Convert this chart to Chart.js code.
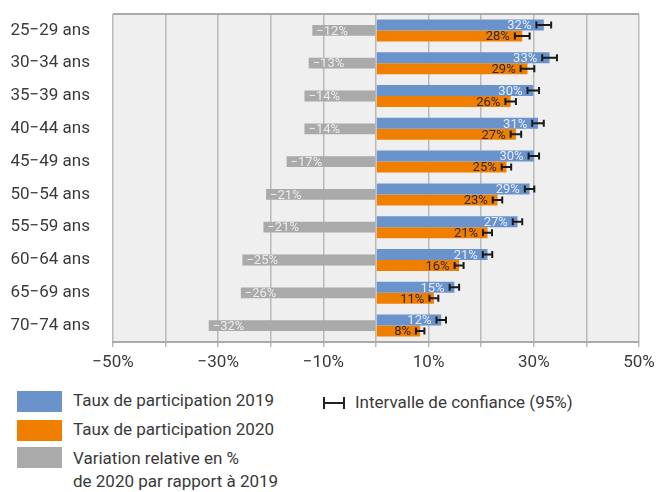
<!doctype html>
<html>

<head>
    <meta charset="utf-8">
    <title>Taux de participation par âge</title>
    <script src="https://cdn.jsdelivr.net/npm/chart.js"></script>
    <style>
        body {
            margin: 0;
            background-color: white;
            font-family: Roboto;
            color: #3a3a3a
        }

        #wrap {
            position: relative;
            width: 669px;
            height: 492px
        }

        .swatch {
            position: absolute;
            left: 17px;
            width: 45px;
            height: 21px
        }

        .ltext {
            position: absolute;
            font-size: 17px;
            line-height: 23px;
            white-space: nowrap
        }

        .ci-icon {
            position: absolute;
            left: 323px;
            top: 397px;
            width: 18px;
            height: 12px;
            border-left: 2px solid #222;
            border-right: 2px solid #222
        }

        .ci-icon div {
            margin-top: 5px;
            height: 2px;
            background: #222
        }
    </style>
</head>

<body>
    <div id="wrap">
        <canvas id="chart" width="669" height="382"></canvas>
        <div class="swatch" style="top: 391px; background: #6a93cc"></div>
        <div class="ltext" style="left: 73px; top: 389px">Taux de participation 2019</div>
        <div class="swatch" style="top: 420px; background: #f07f00"></div>
        <div class="ltext" style="left: 73px; top: 418px">Taux de participation 2020</div>
        <div class="swatch" style="top: 447px; background: #aaaaaa"></div>
        <div class="ltext" style="left: 73px; top: 447px">Variation relative en %<br>de 2020 par rapport à 2019</div>
        <div class="ci-icon"><div></div></div>
        <div class="ltext" style="left: 355px; top: 391px">Intervalle de confiance (95%)</div>
    </div>
    <script>
        const ageGroups = ['25−29 ans', '30−34 ans', '35−39 ans', '40−44 ans', '45−49 ans',
            '50−54 ans', '55−59 ans', '60−64 ans', '65−69 ans', '70−74 ans']
        const rate2019 = [31.9, 33.0, 29.9, 30.8, 30.0, 29.2, 26.9, 21.2, 14.9, 12.4]
        const rate2020 = [27.8, 28.8, 25.6, 26.6, 24.8, 23.1, 21.2, 15.8, 11.0, 8.4]
        const relChange = [-12.1, -12.8, -13.6, -13.6, -17.0, -20.9, -21.4, -25.4, -25.7, -31.8]
        // half width of the 95% confidence interval
        const ci2019 = [1.4, 1.4, 1.1, 1.1, 1.0, 0.9, 0.9, 0.9, 0.9, 0.9]
        const ci2020 = [1.4, 1.3, 1.0, 1.0, 0.9, 0.9, 0.85, 0.85, 0.85, 0.8]
        const xTickLabels = [-50, -30, -10, 10, 30, 50]

        const pct = v => (v < 0 ? '−' + Math.abs(v) : v) + '%'

        const plotBox = {
            id: 'plotBox',
            beforeDraw(chart) {
                const { ctx, chartArea: a } = chart
                ctx.save()
                ctx.fillStyle = '#efefef'
                ctx.fillRect(a.left, a.top, a.right - a.left, a.bottom - a.top)
                ctx.restore()
            },
            afterDatasetsDraw(chart) {
                const { ctx, chartArea: a } = chart
                const x = chart.scales.x
                ctx.save()
                ctx.strokeStyle = '#aaaaaa'
                ctx.lineWidth = 2
                ctx.beginPath()
                ctx.moveTo(a.left, a.top)
                ctx.lineTo(a.right, a.top)
                ctx.stroke()

                // value labels
                ctx.font = '13px Roboto'
                ctx.textBaseline = 'middle'
                chart.data.datasets.forEach((ds, i) => {
                    chart.getDatasetMeta(i).data.forEach((bar, j) => {
                        const v = ds.data[j]
                        ctx.fillStyle = ds.labelColor
                        if (ds.ci) {
                            ctx.textAlign = 'right'
                            ctx.fillText(pct(Math.round(v)), x.getPixelForValue(v - ds.ci[j]) - 5, bar.y + 1)
                        } else {
                            ctx.textAlign = 'left'
                            ctx.fillText(pct(Math.round(v)), bar.x + 4, bar.y + 1)
                        }
                    })
                })

                // confidence intervals
                ctx.strokeStyle = '#1a1a1a'
                ctx.lineWidth = 2
                chart.data.datasets.forEach((ds, i) => {
                    if (!ds.ci) return
                    chart.getDatasetMeta(i).data.forEach((bar, j) => {
                        const lo = x.getPixelForValue(ds.data[j] - ds.ci[j])
                        const hi = x.getPixelForValue(ds.data[j] + ds.ci[j])
                        const y = bar.y
                        ctx.beginPath()
                        ctx.moveTo(lo, y)
                        ctx.lineTo(hi, y)
                        ctx.moveTo(lo, y - 3.5)
                        ctx.lineTo(lo, y + 3.5)
                        ctx.moveTo(hi, y - 3.5)
                        ctx.lineTo(hi, y + 3.5)
                        ctx.stroke()
                    })
                })
                ctx.restore()
            }
        }

        const chart = new Chart(document.getElementById('chart'), {
            type: 'bar',
            data: {
                labels: ageGroups,
                datasets: [
                    {
                        data: rate2019, backgroundColor: '#6a93cc',
                        categoryPercentage: 0.67, barPercentage: 1,
                        ci: ci2019, labelColor: '#e4ebf7'
                    },
                    {
                        data: rate2020, backgroundColor: '#f07f00',
                        categoryPercentage: 0.67, barPercentage: 1,
                        ci: ci2020, labelColor: '#2a2a2a'
                    },
                    {
                        // centred on the category, not grouped with the two rates
                        data: relChange, backgroundColor: '#aaaaaa', grouped: false,
                        categoryPercentage: 0.33, barPercentage: 1,
                        labelColor: '#ececec'
                    }
                ]
            },
            options: {
                indexAxis: 'y',
                responsive: false,
                animation: false,
                layout: { padding: { top: 14, right: 30, left: 0, bottom: 0 } },
                scales: {
                    x: {
                        min: -50,
                        max: 50,
                        afterFit: s => { s.height = 40 },
                        grid: { color: '#bababa', lineWidth: 1.5, tickLength: 5 },
                        border: { color: '#aaaaaa', width: 2 },
                        ticks: {
                            stepSize: 10,
                            autoSkip: false,
                            maxRotation: 0,
                            padding: 6,
                            color: '#3a3a3a',
                            font: { family: 'Roboto', size: 17 },
                            callback: v => xTickLabels.includes(v) ? pct(v) : ''
                        }
                    },
                    y: {
                        afterFit: s => {
                            s.width = 113
                            s.paddingTop = 0
                            s.paddingBottom = 0
                        },
                        grid: { display: false },
                        border: { display: false },
                        ticks: {
                            padding: 15,
                            color: '#3a3a3a',
                            font: { family: 'Roboto', size: 17 }
                        }
                    }
                },
                plugins: {
                    legend: { display: false },
                    tooltip: { enabled: false }
                }
            },
            plugins: [plotBox]
        })
    </script>
</body>

</html>
